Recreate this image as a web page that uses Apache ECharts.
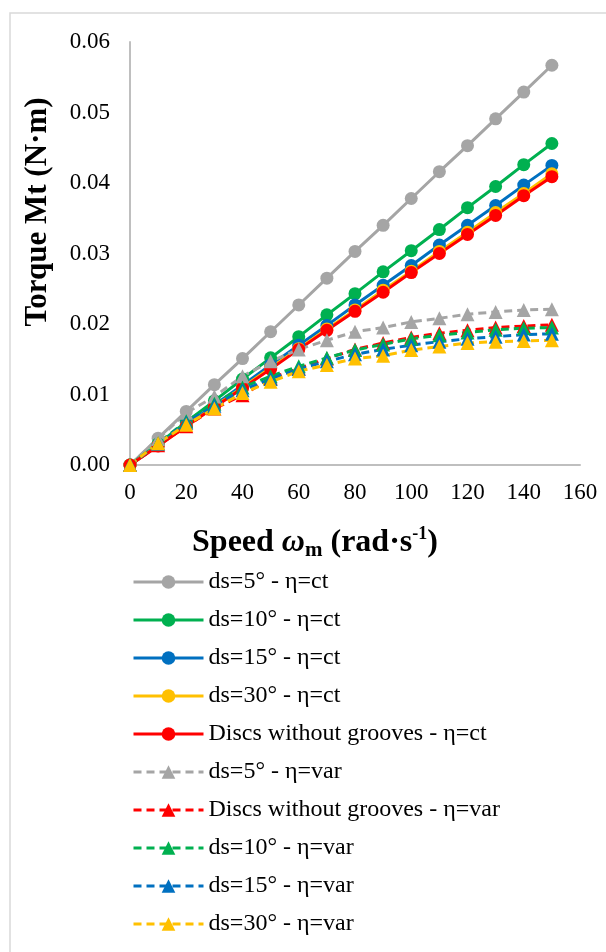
<!DOCTYPE html>
<html>
<head>
<meta charset="utf-8">
<script src="https://cdn.jsdelivr.net/npm/echarts@6/dist/echarts.min.js"></script>
<style>
  html, body { margin: 0; padding: 0; background: #fff; }
  #chart { width: 606px; height: 952px; }
</style>
</head>
<body>
<div id="chart"></div>
<script>
// speed (rad/s)
const speeds = [0, 10, 20, 30, 40, 50, 60, 70, 80, 90, 100, 110, 120, 130, 140, 150];
const yTicks = [0, 0.01, 0.02, 0.03, 0.04, 0.05, 0.06];
const xTicks = [0, 20, 40, 60, 80, 100, 120, 140, 160];

// torque, eta = ct
const ds5Ct = [0, 0.0038, 0.0076, 0.0114, 0.0151, 0.0189, 0.0227, 0.0265, 0.0303, 0.0340, 0.0378, 0.0416, 0.0453, 0.0491, 0.0529, 0.0567];
const ds10Ct = [0, 0.0030, 0.0061, 0.0091, 0.0122, 0.0152, 0.0182, 0.0213, 0.0243, 0.0274, 0.0304, 0.0334, 0.0365, 0.0395, 0.0426, 0.0456];
const ds15Ct = [0, 0.0028, 0.0057, 0.0085, 0.0113, 0.0142, 0.0170, 0.0198, 0.0227, 0.0255, 0.0283, 0.0312, 0.0340, 0.0368, 0.0397, 0.0425];
const ds30Ct = [0, 0.00275, 0.0055, 0.0083, 0.0110, 0.0138, 0.0165, 0.0193, 0.0220, 0.0248, 0.0275, 0.0303, 0.0330, 0.0358, 0.0385, 0.0413];
const noGrooveCt = [0, 0.0027, 0.0055, 0.0082, 0.0109, 0.0136, 0.0164, 0.0191, 0.0218, 0.0245, 0.0273, 0.0300, 0.0327, 0.0354, 0.0382, 0.0409];

// torque, eta = var
const ds5Var = [0, 0.0037, 0.0074, 0.0097, 0.0126, 0.0147, 0.0164, 0.0177, 0.0189, 0.0195, 0.0203, 0.0208, 0.0214, 0.0217, 0.0220, 0.0221];
const noGrooveVar = [0, 0.0028, 0.0055, 0.0080, 0.0099, 0.0123, 0.0137, 0.0151, 0.0164, 0.0173, 0.0181, 0.0187, 0.0191, 0.0195, 0.0197, 0.0199];
const ds10Var = [0, 0.0031, 0.0062, 0.0087, 0.0110, 0.0126, 0.0140, 0.0152, 0.0163, 0.0171, 0.0179, 0.0184, 0.0188, 0.0192, 0.0194, 0.0195];
const ds15Var = [0, 0.0030, 0.0060, 0.0084, 0.0106, 0.0122, 0.0136, 0.0147, 0.0157, 0.0164, 0.0170, 0.0175, 0.0179, 0.0182, 0.0185, 0.0186];
const ds30Var = [0, 0.0031, 0.0057, 0.0080, 0.0102, 0.0118, 0.0133, 0.0142, 0.0151, 0.0155, 0.0163, 0.0168, 0.0173, 0.0175, 0.0176, 0.0177];

const GRAY = "#A5A5A5", GREEN = "#00B050", BLUE = "#0070C0", YELLOW = "#FFC000", RED = "#FF0000";
const FONT = "Liberation Serif";

function mkSeries(name, values, color, dashed) {
  return {
    name: name,
    type: "line",
    data: speeds.map((s, i) => [s, values[i]]),
    symbol: dashed ? "triangle" : "circle",
    symbolSize: dashed ? 14 : 13,
    showAllSymbol: true,
    itemStyle: { color: color },
    lineStyle: { color: color, width: 3, type: dashed ? [8, 5] : "solid" },
    emphasis: { disabled: true }
  };
}

const series = [
  mkSeries("ds=5° - η=ct", ds5Ct, GRAY, false),
  mkSeries("ds=10° - η=ct", ds10Ct, GREEN, false),
  mkSeries("ds=15° - η=ct", ds15Ct, BLUE, false),
  mkSeries("ds=30° - η=ct", ds30Ct, YELLOW, false),
  mkSeries("Discs without grooves - η=ct", noGrooveCt, RED, false),
  mkSeries("ds=5° - η=var", ds5Var, GRAY, true),
  mkSeries("Discs without grooves - η=var", noGrooveVar, RED, true),
  mkSeries("ds=10° - η=var", ds10Var, GREEN, true),
  mkSeries("ds=15° - η=var", ds15Var, BLUE, true),
  mkSeries("ds=30° - η=var", ds30Var, YELLOW, true)
];

const option = {
  animation: false,
  backgroundColor: "#fff",
  textStyle: { fontFamily: FONT },
  grid: { left: 130, right: 26, top: 42, bottom: 487, containLabel: false },
  xAxis: {
    type: "value",
    min: xTicks[0],
    max: xTicks[xTicks.length - 1],
    interval: 20,
    axisLine: { show: true, lineStyle: { color: "#BFBFBF", width: 2 } },
    axisTick: { show: false },
    splitLine: { show: false },
    axisLabel: { color: "#000", fontFamily: FONT, fontSize: 23, margin: 16 }
  },
  yAxis: {
    type: "value",
    min: yTicks[0],
    max: yTicks[yTicks.length - 1],
    interval: 0.01,
    axisLine: { show: true, lineStyle: { color: "#BFBFBF", width: 2 } },
    axisTick: { show: false },
    splitLine: { show: false },
    axisLabel: {
      color: "#000", fontFamily: FONT, fontSize: 23, margin: 20,
      formatter: v => v.toFixed(2)
    }
  },
  legend: {
    orient: "vertical",
    left: 132,
    top: 570,
    padding: 0,
    itemWidth: 70,
    itemHeight: 17,
    itemGap: 14,
    textStyle: { color: "#000", fontFamily: FONT, fontSize: 24, lineHeight: 23.5 },
    lineStyle: { width: 3 },
    data: series.map(s => s.name)
  },
  graphic: [
    {
      type: "rect",
      shape: { x: 10, y: 13, width: 800, height: 1200 },
      style: { fill: "none", stroke: "#D9D9D9", lineWidth: 1.5 },
      silent: true
    },
    {
      type: "text",
      x: 38,
      y: 212,
      rotation: Math.PI / 2,
      style: {
        text: "Torque Mt (N·m)",
        fontFamily: FONT,
        fontSize: 31,
        fontWeight: "bold",
        fill: "#000",
        align: "center",
        verticalAlign: "middle"
      }
    },
    {
      type: "text",
      x: 315,
      y: 543,
      style: {
        text: "{b|Speed }{w|ω}{sub|m}{b| (rad·s}{sup|-1}{b|)}",
        fontFamily: FONT,
        fill: "#000",
        align: "center",
        verticalAlign: "middle",
        rich: {
          b: { fontFamily: FONT, fontSize: 32, fontWeight: "bold", lineHeight: 36 },
          w: { fontFamily: FONT, fontSize: 32, fontWeight: "bold", fontStyle: "italic", lineHeight: 36 },
          sub: { fontFamily: FONT, fontSize: 21, fontWeight: "bold", verticalAlign: "bottom", lineHeight: 20 },
          sup: { fontFamily: FONT, fontSize: 18, fontWeight: "bold", verticalAlign: "top", lineHeight: 18 }
        }
      }
    }
  ],
  series: series
};

const chart = echarts.init(document.getElementById("chart"));
chart.setOption(option);
</script>
</body>
</html>
